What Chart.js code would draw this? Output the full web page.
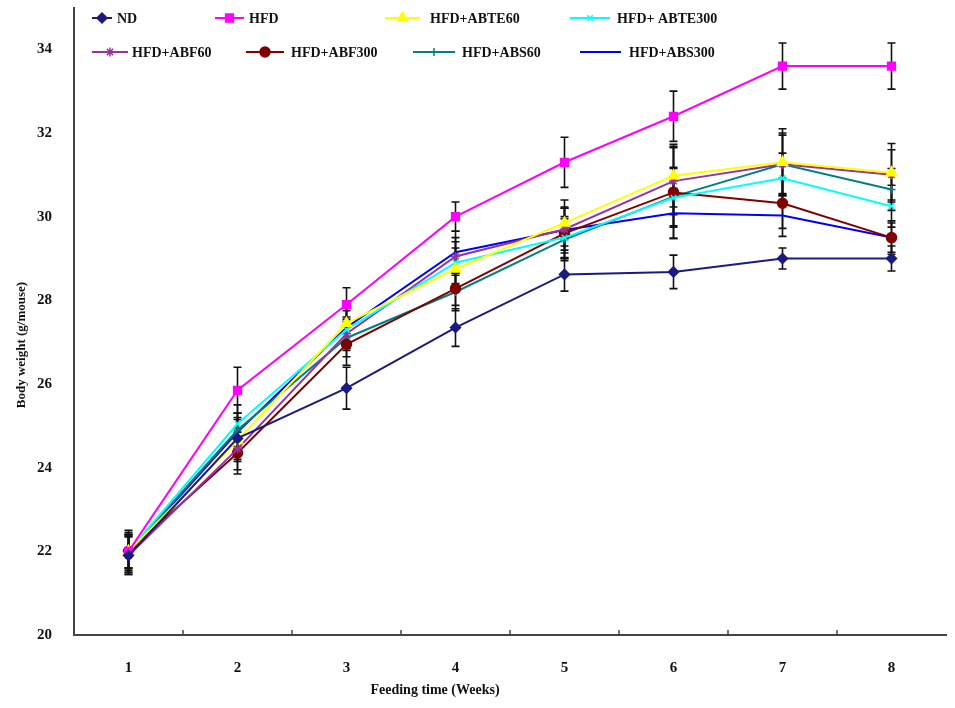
<!DOCTYPE html>
<html>
<head>
<meta charset="utf-8">
<script src="https://cdn.jsdelivr.net/npm/chart.js@4.4.1/dist/chart.umd.min.js"></script>
<style>
  html, body { margin: 0; padding: 0; background: #fff; }
  #wrap { width: 955px; height: 708px; position: relative; }
</style>
</head>
<body>
<div id="wrap"><canvas id="chartBW"></canvas></div>
<script>
// DATOS
const weeks = ['1', '2', '3', '4', '5', '6', '7', '8'];
const yTicks = [20, 22, 24, 26, 28, 30, 32, 34];

const ndVals      = [21.9, 24.7, 25.9, 27.35, 28.62, 28.68, 29.0, 29.0];
const hfdVals     = [22.0, 25.85, 27.9, 30.0, 31.3, 32.4, 33.6, 33.6];
const abte60Vals  = [22.0, 24.65, 27.45, 28.75, 29.85, 30.98, 31.3, 31.05];
const abte300Vals = [22.0, 25.05, 27.3, 28.9, 29.5, 30.45, 30.92, 30.25];
const abf60Vals   = [21.9, 24.45, 27.2, 29.05, 29.7, 30.85, 31.25, 31.0];
const abf300Vals  = [22.0, 24.35, 26.95, 28.28, 29.6, 30.58, 30.32, 29.5];
const abs60Vals   = [22.0, 24.9, 27.1, 28.2, 29.45, 30.48, 31.25, 30.65];
const abs300Vals  = [21.95, 24.85, 27.35, 29.15, 29.68, 30.08, 30.03, 29.5];

// barras de error (desviación)
const ndErr      = [0.45, 0.5, 0.5, 0.45, 0.4, 0.4, 0.25, 0.3];
const hfdErr     = [0.5, 0.55, 0.4, 0.35, 0.6, 0.6, 0.55, 0.55];
const abte60Err  = [0.45, 0.5, 0.45, 0.5, 0.55, 0.75, 0.8, 0.7];
const abte300Err = [0.4, 0.45, 0.45, 0.5, 0.5, 0.7, 0.6, 0.5];
const abf60Err   = [0.45, 0.5, 0.4, 0.45, 0.5, 0.8, 0.7, 0.6];
const abf300Err  = [0.4, 0.5, 0.5, 0.4, 0.6, 1.1, 0.6, 0.4];
const abs60Err   = [0.4, 0.4, 0.45, 0.45, 0.5, 0.7, 0.75, 0.5];
const abs300Err  = [0.45, 0.45, 0.5, 0.5, 0.55, 0.6, 0.5, 0.35];

const FONT = "'Liberation Serif', 'Times New Roman', serif";

// series: etiqueta, valores, errores, color, marcador
const series = [
    { label: 'ND',           data: ndVals,      err: ndErr,      color: '#1a1a80', style: 'rectRot',  r: 5 },
    { label: 'HFD',          data: hfdVals,     err: hfdErr,     color: '#ff00ff', style: 'rect',     r: 5.5 },
    { label: 'HFD+ABTE60',   data: abte60Vals,  err: abte60Err,  color: '#ffff00', style: 'triangle', r: 6 },
    { label: 'HFD+ ABTE300', data: abte300Vals, err: abte300Err, color: '#00ffff', style: 'crossRot', r: 4 },
    { label: 'HFD+ABF60',    data: abf60Vals,   err: abf60Err,   color: '#993399', style: 'star',     r: 4.5 },
    { label: 'HFD+ABF300',   data: abf300Vals,  err: abf300Err,  color: '#800000', style: 'circle',   r: 5 },
    { label: 'HFD+ABS60',    data: abs60Vals,   err: abs60Err,   color: '#008080', style: 'cross',    r: 4 },
    { label: 'HFD+ABS300',   data: abs300Vals,  err: abs300Err,  color: '#0000ff', style: 'circle',   r: 0 }
];

// posiciones de la leyenda (x inicio linea, x fin linea, x texto, y)
const legendSlots = [
    [92, 112, 117, 18], [215, 244, 249, 18], [385, 420, 430, 18], [570, 610, 617, 18],
    [92, 128, 132, 52], [246, 284, 291, 52], [413, 455, 462, 52], [580, 621, 629, 52]
];

// --------------------------------------------------------
// Plugin: barras de error
// --------------------------------------------------------
const errorBars = {
    id: 'errorBars',
    beforeDatasetsDraw(chart) {
        const ctx = chart.ctx;
        const yS = chart.scales.y;
        ctx.save();
        ctx.strokeStyle = '#111';
        ctx.lineWidth = 1.6;
        chart.data.datasets.forEach((ds, i) => {
            const meta = chart.getDatasetMeta(i);
            meta.data.forEach((pt, j) => {
                const v = ds.data[j], e = ds.errVals[j];
                const yTop = yS.getPixelForValue(v + e);
                const yBot = yS.getPixelForValue(v - e);
                ctx.beginPath();
                ctx.moveTo(pt.x, yTop); ctx.lineTo(pt.x, yBot);
                ctx.moveTo(pt.x - 4, yTop); ctx.lineTo(pt.x + 4, yTop);
                ctx.moveTo(pt.x - 4, yBot); ctx.lineTo(pt.x + 4, yBot);
                ctx.stroke();
            });
        });
        ctx.restore();
    }
};

// --------------------------------------------------------
// Plugin: leyenda, marcas del eje X y títulos de ejes
// --------------------------------------------------------
const decor = {
    id: 'decor',
    afterDraw(chart) {
        const ctx = chart.ctx;
        const xS = chart.scales.x;
        ctx.save();

        // marcas hacia dentro entre categorías
        ctx.strokeStyle = '#444';
        ctx.lineWidth = 1.5;
        for (let i = 0; i < weeks.length - 1; i++) {
            const xm = (xS.getPixelForValue(i) + xS.getPixelForValue(i + 1)) / 2;
            ctx.beginPath();
            ctx.moveTo(xm, xS.top); ctx.lineTo(xm, xS.top - 5);
            ctx.stroke();
        }

        ctx.font = `bold 14px ${FONT}`;
        ctx.textBaseline = 'middle';
        ctx.textAlign = 'left';
        series.forEach((s, i) => {
            const [x0, x1, tx, y] = legendSlots[i];
            ctx.strokeStyle = s.color;
            ctx.lineWidth = 2;
            ctx.beginPath(); ctx.moveTo(x0, y); ctx.lineTo(x1, y); ctx.stroke();
            if (s.r > 0 && Chart.helpers && Chart.helpers.drawPoint) {
                ctx.fillStyle = s.color;
                ctx.lineWidth = 1.5;
                Chart.helpers.drawPoint(ctx, { pointStyle: s.style, radius: s.r, rotation: 0, borderWidth: 1.5 }, (x0 + x1) / 2, y);
            }
            ctx.fillStyle = '#111';
            ctx.fillText(s.label, tx, y + 1);
        });

        // títulos de ejes
        ctx.font = `bold 14px ${FONT}`;
        ctx.textAlign = 'center';
        ctx.fillText('Feeding time (Weeks)', 435, 690);
        ctx.translate(22, 345);
        ctx.rotate(-Math.PI / 2);
        ctx.font = `bold 13px ${FONT}`;
        ctx.fillText('Body weight (g/mouse)', 0, 0);
        ctx.restore();
    }
};

// --------------------------------------------------------
// Gráfica
// --------------------------------------------------------
const ctxBW = document.getElementById('chartBW').getContext('2d');
new Chart(ctxBW, {
    type: 'line',
    data: {
        labels: weeks,
        datasets: series.map(s => ({
            label: s.label,
            data: s.data,
            errVals: s.err,
            borderColor: s.color,
            backgroundColor: s.color,
            pointStyle: s.style,
            pointRadius: s.r,
            pointBorderWidth: 1.5,
            pointBorderColor: s.color,
            pointBackgroundColor: s.color,
            borderWidth: 2,
            tension: 0
        }))
    },
    options: {
        responsive: true,
        maintainAspectRatio: false,
        animation: false,
        layout: { padding: { top: 2, right: 9, left: 0, bottom: 0 } },
        plugins: {
            legend: { display: false },
            tooltip: { enabled: false }
        },
        scales: {
            x: {
                type: 'category',
                offset: true,
                grid: { display: false },
                border: { color: '#444', width: 2 },
                ticks: { color: '#111', padding: 16, font: { family: FONT, size: 15, weight: 'bold' } },
                afterFit(scale) { scale.height = 73; scale.paddingLeft = 0; scale.paddingRight = 0; }
            },
            y: {
                min: 20,
                max: 35,
                grid: { display: false },
                border: { color: '#444', width: 2 },
                afterBuildTicks(scale) { scale.ticks = yTicks.map(v => ({ value: v })); },
                ticks: { color: '#111', padding: 14, font: { family: FONT, size: 15, weight: 'bold' } },
                afterFit(scale) { scale.width = 74; scale.paddingTop = 0; scale.paddingBottom = 0; }
            }
        }
    },
    plugins: [errorBars, decor]
});
</script>
</body>
</html>
